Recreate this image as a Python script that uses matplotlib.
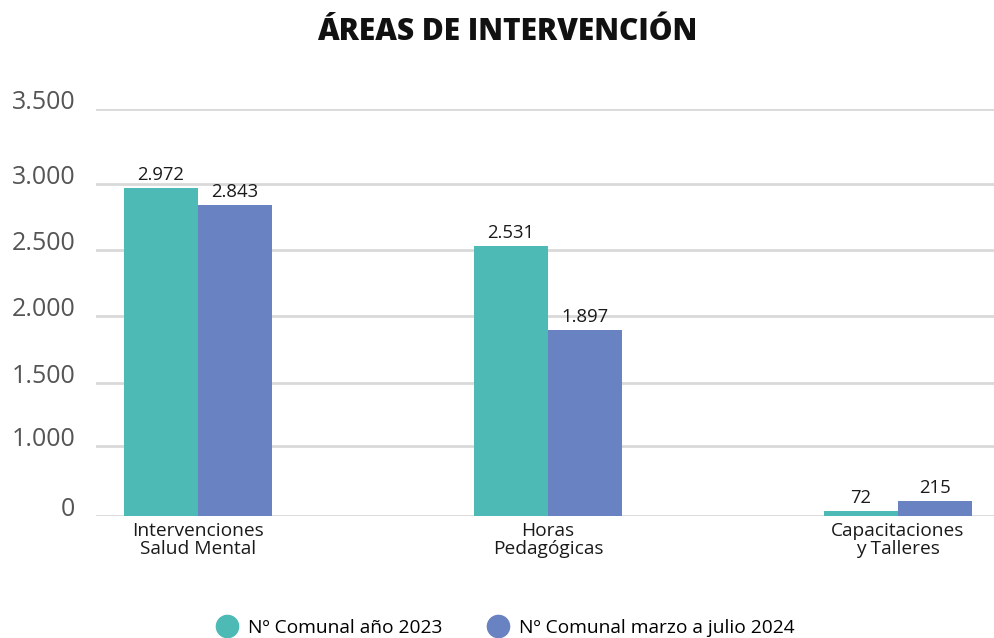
import numpy as np
import matplotlib
matplotlib.use("Agg")
import matplotlib.pyplot as plt
from matplotlib.lines import Line2D
from matplotlib.transforms import ScaledTranslation

plt.rcParams['font.family'] = ['Open Sans', 'DejaVu Sans']

categories = ["Intervenciones\nSalud Mental", "Horas\nPedagógicas", "Capacitaciones\ny Talleres"]
series_names = ["Nº Comunal año 2023", "Nº Comunal marzo a julio 2024"]
values_2023 = [2972, 2531, 72]
values_2024 = [2843, 1897, 215]
ytick_values = [0, 1000, 1500, 2000, 2500, 3000, 3500]
ytick_labels = ["0", "1.000", "1.500", "2.000", "2.500", "3.000", "3.500"]
title = "ÁREAS DE INTERVENCIÓN"

colors = ["#4DBAB6", "#6982C1"]

# visual (non-uniform) spacing of the original axis gridlines
knot_vals = np.array([0, 1000, 1500, 2000, 2500, 3000, 3500], dtype=float)
knot_pos = np.array([0, 70, 133, 200, 266, 332, 407], dtype=float)

def fwd(v):
    return np.interp(v, knot_vals, knot_pos)

def inv(p):
    return np.interp(p, knot_pos, knot_vals)

fig = plt.figure(figsize=(9.95, 6.38), dpi=100)
ax = fig.add_axes([96/995, 122/638, 899/995, 407/638])
ax.set_yscale('function', functions=(fwd, inv))

x = np.arange(len(categories))
w = 0.211
b1 = ax.bar(x - w/2, values_2023, w, color=colors[0], zorder=3)
b2 = ax.bar(x + w/2, values_2024, w, color=colors[1], zorder=3)

def fmt(v):
    return f"{v:,}".replace(",", ".")

for bars, vals in ((b1, values_2023), (b2, values_2024)):
    ax.bar_label(bars, labels=[fmt(v) for v in vals], padding=3,
                 fontsize=13.3, color="#1a1a1a")

ax.set_xlim(-0.291, 2.277)
ax.set_ylim(0, 3500)
ax.set_yticks(ytick_values)
ax.set_yticklabels(ytick_labels, fontsize=18, color="#555555")
ax.yaxis.set_minor_locator(matplotlib.ticker.NullLocator())
ax.tick_params(axis='y', length=0, pad=15)
off = ScaledTranslation(0, 7/72, fig.dpi_scale_trans)
for lab in ax.get_yticklabels():
    lab.set_transform(lab.get_transform() + off)

ax.set_xticks(x)
ax.set_xticklabels(categories, fontsize=13.8, color="#1a1a1a", linespacing=1.05)
ax.tick_params(axis='x', length=0, pad=4)

ax.grid(axis='y', color="#d9d9d9", linewidth=2, zorder=0)
for s in ax.spines.values():
    s.set_visible(False)

fig.text(0.51, 1 - 32/638, title, ha='center', va='center',
         fontsize=21.5, fontweight=800, color="#111111")

handles = [Line2D([], [], linestyle='none', marker='o', markersize=16,
                  markerfacecolor=c, markeredgecolor=c) for c in colors]
fig.legend(handles, series_names, loc='center', bbox_to_anchor=(0.508, 10/638),
           ncol=2, frameon=False, fontsize=13.8, handletextpad=0.5,
           columnspacing=2.3, borderaxespad=0, handlelength=1.2)

fig.savefig("out.png", dpi=100)
